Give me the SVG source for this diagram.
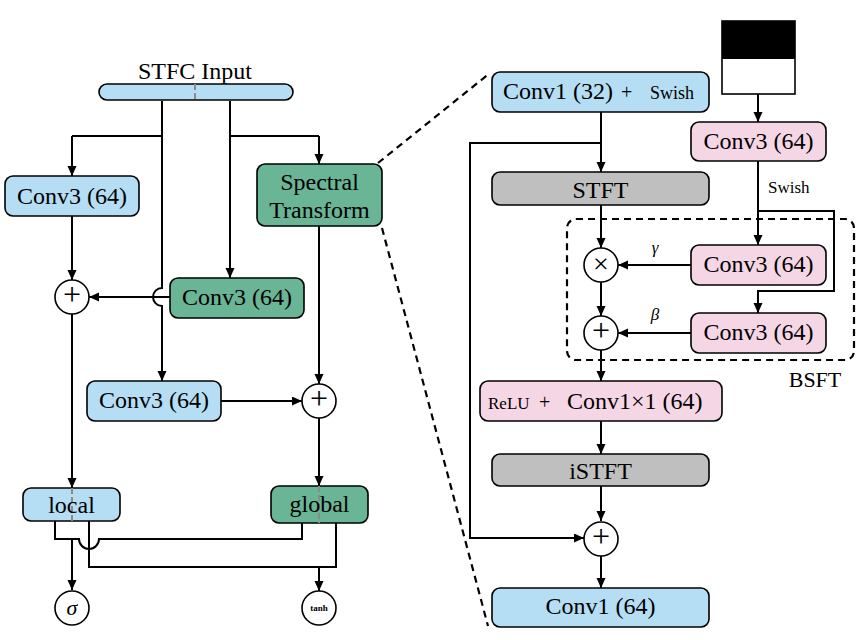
<svg xmlns="http://www.w3.org/2000/svg" width="858" height="640" viewBox="0 0 858 640">
<style>
text{font-family:"Liberation Serif","DejaVu Serif",serif;fill:#000}
.t{font-size:24px;text-anchor:middle}
.s{font-size:18px}
.it{font-style:italic}
.op{font-size:32px;text-anchor:middle}
.box{stroke:#000;stroke-width:1.6}
.blue{fill:#b5def5}
.green{fill:#69b595}
.pink{fill:#f5d6e5}
.gray{fill:#bfbfbf}
.circ{fill:#fff;stroke:#000;stroke-width:1.6}
.c{fill:none;stroke:#000;stroke-width:2}
.a{marker-end:url(#ah)}
.dash{fill:none;stroke:#000;stroke-width:2.2;stroke-dasharray:7 5}
.gd{stroke:#8a8a8a;stroke-width:2;stroke-dasharray:6 3}
</style>
<defs>
<marker id="ah" markerUnits="userSpaceOnUse" markerWidth="11" markerHeight="10" refX="10" refY="4.5" orient="auto">
<path d="M0,0 L10,4.5 L0,9 z" fill="#000"/>
</marker>
</defs>

<g id="connectors">
<path class="c" d="M162,101 V136 H72"/>
<path class="c a" d="M72,136 V176"/>
<path class="c a" d="M162,136 V288 A9,9 0 0 0 162,306 V381"/>
<path class="c" d="M230,101 V136 H319"/>
<path class="c a" d="M319,136 V164"/>
<path class="c a" d="M230,136 V278"/>
<path class="c a" d="M72,216 V280"/>
<path class="c a" d="M170,297 H89"/>
<path class="c a" d="M72,314 V488"/>
<path class="c a" d="M221,401 H302"/>
<path class="c a" d="M319,226 V384"/>
<path class="c a" d="M319,418 V486"/>
<path class="c" d="M55,521 V539 H79 A10,10 0 0 0 99,539 H302 V523"/>
<path class="c a" d="M72,539 V590"/>
<path class="c" d="M89,521 V567 H336 V523"/>
<path class="c a" d="M319,567 V591"/>

<path class="c a" d="M601,112 V172"/>
<path class="c a" d="M601,143 H470 V538 H584"/>
<path class="c a" d="M758,94 V122"/>
<path class="c a" d="M758,161 V245"/>
<path class="c a" d="M758,211 H834 V291 H758 V313"/>
<path class="c a" d="M601,205 V248"/>
<path class="c a" d="M691,265 H618"/>
<path class="c a" d="M601,282 V316"/>
<path class="c a" d="M691,333 H618"/>
<path class="c a" d="M601,350 V381"/>
<path class="c a" d="M601,421 V454"/>
<path class="c a" d="M601,486 V521"/>
<path class="c a" d="M601,556 V588"/>

<path class="dash" d="M378,163 L490,73"/>
<path class="dash" d="M382,228 L488,626"/>
</g>

<g id="stfc-input">
<rect class="box blue" x="99" y="84" width="194" height="16" rx="8"/>
<line class="gd" x1="195" y1="84" x2="195" y2="100"/>
<text class="t" x="195" y="79">STFC Input</text>
</g>

<g id="conv3-left">
<rect class="box blue" x="5" y="176" width="134" height="40" rx="8"/>
<text class="t" x="72" y="204">Conv3 (64)</text>
</g>

<g id="spectral-transform">
<rect class="box green" x="257" y="164" width="125" height="62" rx="8"/>
<text class="t" x="319.5" y="190">Spectral</text>
<text class="t" x="319.5" y="218">Transform</text>
</g>

<g id="plus-left">
<circle class="circ" cx="72" cy="297" r="17"/>
<text class="op" x="72" y="305">+</text>
</g>

<g id="conv3-green">
<rect class="box green" x="170" y="278" width="134" height="40" rx="8"/>
<text class="t" x="237" y="305">Conv3 (64)</text>
</g>

<g id="conv3-mid">
<rect class="box blue" x="87" y="381" width="134" height="40" rx="8"/>
<text class="t" x="154" y="408">Conv3 (64)</text>
</g>

<g id="plus-right">
<circle class="circ" cx="319" cy="401" r="17"/>
<text class="op" x="319" y="409">+</text>
</g>

<g id="local">
<rect class="box blue" x="23" y="488" width="97" height="33" rx="8"/>
<line class="gd" x1="72" y1="488" x2="72" y2="521"/>
<text class="t" x="71.5" y="513">local</text>
</g>

<g id="global">
<rect class="box green" x="271" y="486" width="97" height="37" rx="8"/>
<line class="gd" x1="319" y1="486" x2="319" y2="523"/>
<text class="t" x="319.5" y="512">global</text>
</g>

<g id="sigma">
<circle class="circ" cx="72" cy="608" r="17"/>
<text class="t it" x="72" y="615" style="font-size:22px">σ</text>
</g>

<g id="tanh">
<circle class="circ" cx="319" cy="608" r="17"/>
<text x="319" y="611" style="font-size:9px;text-anchor:middle;font-weight:bold">tanh</text>
</g>

<g id="mask">
<rect x="722" y="21" width="73" height="38" fill="#000"/>
<rect x="722" y="59" width="73" height="35" fill="#fff"/>
<rect x="722" y="21" width="73" height="73" fill="none" stroke="#000" stroke-width="1.6"/>
</g>

<g id="conv1-32">
<rect class="box blue" x="492" y="72" width="217" height="40" rx="8"/>
<text x="503" y="99" style="font-size:24px">Conv1 (32)</text>
<text x="621" y="99" style="font-size:20px">+</text>
<text class="s" x="650" y="99">Swish</text>
</g>

<g id="conv3-cond">
<rect class="box pink" x="691" y="122" width="135" height="39" rx="8"/>
<text class="t" x="758.5" y="149">Conv3 (64)</text>
</g>

<text class="s" x="768" y="193" style="font-size:17px">Swish</text>

<g id="stft">
<rect class="box gray" x="492" y="172" width="217" height="33" rx="8"/>
<text class="t" x="600.5" y="198">STFT</text>
</g>

<g id="bsft">
<rect x="567" y="219" width="287" height="141" rx="9" class="dash"/>
<text x="815" y="387" style="font-size:22px;text-anchor:middle">BSFT</text>
</g>

<g id="times">
<circle class="circ" cx="601" cy="265" r="17"/>
<text class="op" x="601" y="272.5" style="font-size:28px">×</text>
</g>
<text class="it" x="655" y="253" style="font-size:17px;text-anchor:middle">γ</text>

<g id="conv3-gamma">
<rect class="box pink" x="691" y="245" width="135" height="40" rx="8"/>
<text class="t" x="758.5" y="272">Conv3 (64)</text>
</g>

<g id="plus-beta">
<circle class="circ" cx="601" cy="333" r="17"/>
<text class="op" x="601" y="341">+</text>
</g>
<text class="it" x="655" y="320" style="font-size:17px;text-anchor:middle">β</text>

<g id="conv3-beta">
<rect class="box pink" x="691" y="313" width="135" height="40" rx="8"/>
<text class="t" x="758.5" y="340">Conv3 (64)</text>
</g>

<g id="relu-conv">
<rect class="box pink" x="480" y="381" width="242" height="40" rx="8"/>
<text x="488" y="409" style="font-size:17px">ReLU</text>
<text x="539" y="409" style="font-size:20px">+</text>
<text x="567" y="409" style="font-size:24px">Conv1×1 (64)</text>
</g>

<g id="istft">
<rect class="box gray" x="492" y="454" width="217" height="32" rx="8"/>
<text class="t" x="600.5" y="479">iSTFT</text>
</g>

<g id="plus-res">
<circle class="circ" cx="601" cy="539" r="17"/>
<text class="op" x="601" y="547">+</text>
</g>

<g id="conv1-64">
<rect class="box blue" x="492" y="588" width="217" height="39" rx="8"/>
<text class="t" x="600.5" y="614">Conv1 (64)</text>
</g>
</svg>
